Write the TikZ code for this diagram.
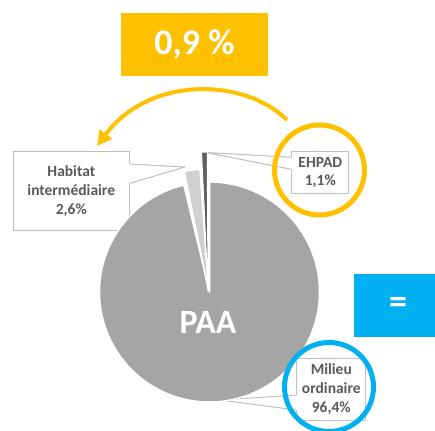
\documentclass[tikz,border=0pt]{standalone}
\usepackage{fontspec}
\setmainfont{Carlito}
\usetikzlibrary{arrows.meta,calc}
\definecolor{jaune}{HTML}{FFC000}
\definecolor{bleu}{HTML}{00B0F0}
\definecolor{grisM}{HTML}{A5A5A5}
\definecolor{grisC}{HTML}{D0D0D0}
\definecolor{grisF}{HTML}{5F5F5F}
\definecolor{grisT}{HTML}{595959}
\definecolor{grisL}{HTML}{BFBFBF}
\begin{document}
\begin{tikzpicture}[x=1pt, y=-1pt, line join=round,
 lbl/.style={draw=grisL, line width=1pt, fill=white, text=grisT, align=center, inner sep=0pt, font=\fontsize{15.5}{18.8}\selectfont\bfseries},
 bandeau/.style={text=white, inner sep=0pt, font=\fontsize{36}{40}\selectfont\bfseries},
 trait/.style={grisL, line width=1pt},
 tranche/.style={draw=white, line width=1.5pt}]
 \useasboundingbox (0,0) rectangle (435,430);
 % etiquettes
 \node[lbl, minimum width=116, minimum height=79] (hab) at (71.3,191.2) {Habitat\\intermédiaire\\2,6\%};
 \node[lbl, minimum width=57, minimum height=42] (ehpad) at (320.3,172.5) {EHPAD\\1,1\%};
 \node[lbl, minimum width=69, minimum height=62] (milieu) at (331.3,389.2) {Milieu\\ordinaire\\96,4\%};
 \coordinate (pHab) at (185,167);
 \coordinate (pEhpad) at (206,152.5);
 \coordinate (pMilieu) at (220,400);
 \fill[white] ($(hab.east)+(-1,-27.2)$) -- (pHab) -- ($(hab.east)+(-1,-7.9)$) -- cycle;
 \draw[trait] ($(hab.east)+(0,-27.2)$) -- (pHab) -- ($(hab.east)+(0,-7.9)$);
 \fill[white] ($(ehpad.west)+(1,-15.2)$) -- (pEhpad) -- ($(ehpad.west)+(1,-3.2)$) -- cycle;
 \draw[trait] ($(ehpad.west)+(0,-15.2)$) -- (pEhpad) -- ($(ehpad.west)+(0,-3.2)$);
 \fill[white] ($(milieu.west)+(1,5.8)$) -- (pMilieu) -- ($(milieu.west)+(1,20.8)$) -- cycle;
 \draw[trait] ($(milieu.west)+(0,5.8)$) -- (pMilieu) -- ($(milieu.west)+(0,20.8)$);
 % camembert
 \fill[grisM, tranche] (209.5,292) -- ++(-90:110) arc[start angle=-90, end angle=256.5, radius=110] -- cycle;
 \fill[grisC, tranche] (208.5,291) -- ++(-101.5:122) arc[start angle=-101.5, end angle=-94, radius=122] -- cycle;
 \fill[grisF, tranche, line width=1pt] (208,290) -- ++(-92.7:138) arc[start angle=-92.7, end angle=-90.3, radius=138] -- cycle;
 \node[text=white, font=\fontsize{34}{40}\selectfont\bfseries, inner sep=0pt] (paa) at (208,322) {PAA};
 % cercles
 \draw[jaune, line width=5pt] (319.5,170) circle[radius=45];
 \draw[bleu, line width=5pt] (329,387) circle[radius=44.5];
 % bandeaux
 \node[bandeau, fill=jaune, minimum width=147, minimum height=63] (taux) at (194.5,44.3) {0,9 \%};
 \node[bandeau, fill=bleu, minimum width=88, minimum height=63] (egal) at (398,305.4) {=};
 % fleche
 \coordinate (depart) at (287,120);
 \coordinate (arrivee) at (97,146);
 \draw[jaune, line width=4pt, -{Triangle[length=15pt, width=15pt]}] (depart) .. controls (245,78) and (150,75) .. (arrivee);
\end{tikzpicture}
\end{document}
